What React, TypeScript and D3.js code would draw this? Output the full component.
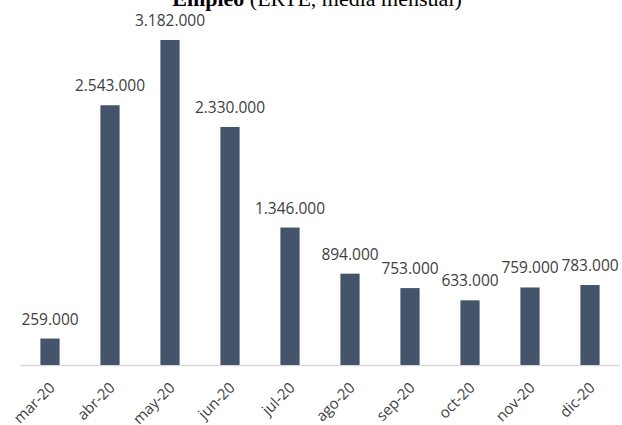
import React, { useRef, useEffect } from 'react';
import * as d3 from 'd3';

// Empleo en ERTE, media mensual (personas)
const months = ['mar-20', 'abr-20', 'may-20', 'jun-20', 'jul-20', 'ago-20', 'sep-20', 'oct-20', 'nov-20', 'dic-20'];
const erte = [259000, 2543000, 3182000, 2330000, 1346000, 894000, 753000, 633000, 759000, 783000];

const App: React.FC = () => {
  const width = 622;
  const height = 425;
  const baseline = 365;

  const svgRef = useRef<SVGSVGElement | null>(null);

  useEffect(() => {
    const svg = d3.select(svgRef.current);
    svg.selectAll('*').remove();

    const esLocale = d3.formatLocale({ decimal: ',', thousands: '.', grouping: [3], currency: ['', '€'] });
    const fmt = esLocale.format(',');

    const x = d3.scaleBand<string>()
      .domain(months)
      .range([20, 620])
      .paddingInner(0.68)
      .paddingOuter(0.34);

    const y = d3.scaleLinear().domain([0, 3500000]).range([baseline, 7.5]);

    // Title (cut off at the top, like the original)
    const title = svg.append('text')
      .attr('x', 317)
      .attr('y', 6)
      .attr('text-anchor', 'middle')
      .attr('font-family', '"Liberation Serif", "Times New Roman", serif')
      .attr('font-size', '22px')
      .attr('fill', '#000');
    title.append('tspan').attr('font-weight', 'bold').text('Empleo');
    title.append('tspan').text(' (ERTE, media mensual)');

    // Baseline
    svg.append('line')
      .attr('x1', 20)
      .attr('x2', 620)
      .attr('y1', baseline + 0.5)
      .attr('y2', baseline + 0.5)
      .attr('stroke', '#d9d9d9')
      .attr('stroke-width', 1.5);

    const data = months.map((m, i) => ({ month: m, value: erte[i] }));

    // Bars
    svg.append('g')
      .selectAll('rect')
      .data(data)
      .enter()
      .append('rect')
      .attr('x', d => x(d.month)!)
      .attr('y', d => y(d.value))
      .attr('width', x.bandwidth())
      .attr('height', d => baseline - y(d.value))
      .attr('fill', '#44546a');

    // Value labels
    svg.append('g')
      .selectAll('text')
      .data(data)
      .enter()
      .append('text')
      .attr('x', d => x(d.month)! + x.bandwidth() / 2)
      .attr('y', d => y(d.value) - 14)
      .attr('text-anchor', 'middle')
      .attr('font-family', '"Open Sans", sans-serif')
      .attr('font-size', '15.5px')
      .attr('fill', '#404040')
      .text(d => fmt(d.value));

    // Month labels, rotated
    svg.append('g')
      .selectAll('text')
      .data(months)
      .enter()
      .append('text')
      .attr('transform', d => `translate(${x(d)! + x.bandwidth() / 2 + 2}, ${baseline + 20}) rotate(-45)`)
      .attr('text-anchor', 'end')
      .attr('dy', '0.35em')
      .attr('font-family', '"Open Sans", sans-serif')
      .attr('font-size', '15px')
      .attr('fill', '#404040')
      .text(d => d);
  }, []);

  return (
    <svg
      ref={svgRef}
      width={width}
      height={height}
      style={{ position: 'absolute', left: 0, top: 0, background: '#fff' }}
    />
  );
};

export default App;
